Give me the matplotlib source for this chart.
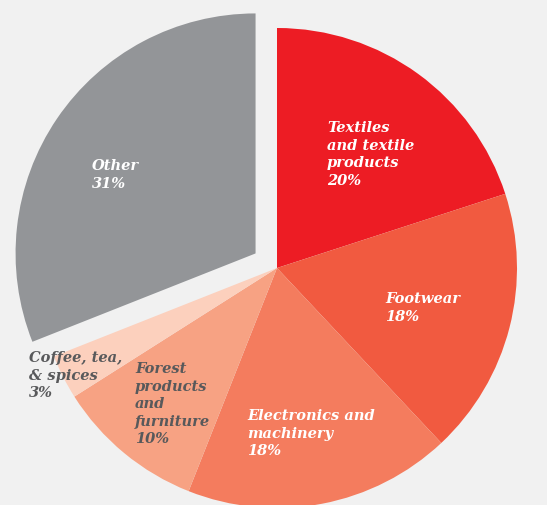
import matplotlib.pyplot as plt

# Share of exports by product group
labels = ["Textiles\nand textile\nproducts", "Footwear", "Electronics and\nmachinery",
          "Forest\nproducts\nand\nfurniture", "Coffee, tea,\n& spices", "Other"]
shares = [20, 18, 18, 10, 3, 31]
colors = ["#ED1C24", "#F15A40", "#F47C5E", "#F7A283", "#FCD0BD", "#939598"]
text_colors = ["white", "white", "white", "#58595B", "#58595B", "white"]

# label anchor points (top-left corner, in pixels from the picture)
label_px = [(327, 121), (385, 292), (247, 409), (135, 362), (29, 351), (92, 159)]

fig = plt.figure(figsize=(5.47, 5.05), dpi=100, facecolor="#F1F1F1")
ax = fig.add_axes([0, 0, 1, 1])
ax.set_facecolor("#F1F1F1")

# center of the pie sits at pixel (277, 268), radius 240 px
cx, cy = 277, 268
R = 240
explode = [0, 0, 0, 0, 0, 0.108 * R]  # pie takes explode in data units
ax.pie(shares, colors=colors, explode=explode, startangle=90, counterclock=False,
       radius=R, wedgeprops=dict(linewidth=0))

for lab, val, (px, py), tc in zip(labels, shares, label_px, text_colors):
    ax.text(px - cx, cy - py, f"{lab}\n{val}%", ha="left", va="top",
            color=tc, fontsize=10.5, fontweight="bold", fontstyle="italic",
            family="DejaVu Serif", linespacing=1.32)

ax.set_xlim(-cx, 547 - cx)
ax.set_ylim(cy - 505, cy)
ax.set_aspect("equal")
ax.axis("off")

fig.savefig("out.png", dpi=100, facecolor=fig.get_facecolor())
